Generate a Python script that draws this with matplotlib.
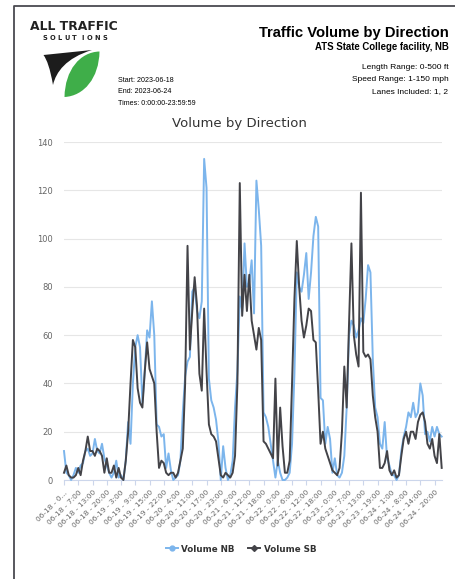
import numpy as np
import matplotlib.pyplot as plt
from matplotlib.path import Path
from matplotlib.patches import PathPatch
from matplotlib.lines import Line2D

W, H = 455, 579

# --- data: hourly counts (hours with no record are absent from the series) ---
volume_nb = [12, 3, 2, 0, 2, 5, 3, 6, 7, 12, 13, 10, 11, 17, 12, 11, 15, 9, 6, 3, 1, 3, 8,
             1, 2, 0, 8, 24, 15, 40, 55, 60, 55, 32, 45, 62, 59, 74, 60, 23, 22, 18, 19, 5, 11, 4,
             0, 1, 2, 8, 28, 43, 49, 51, 78, 80, 70, 67, 74, 133, 121, 42, 33, 30, 25, 16, 0, 14, 5,
             0, 2, 8, 30, 45, 76, 70, 98, 80, 82, 91, 69, 124, 112, 97, 28, 26, 22, 15, 8, 1, 8, 3,
             0, 0, 1, 3, 15, 44, 86, 80, 78, 85, 94, 75, 86, 101, 109, 105, 34, 33, 15, 22, 17, 3, 9,
             2, 1, 3, 10, 30, 60, 66, 64, 59, 62, 67, 65, 75, 89, 86, 50, 30, 26, 15, 13, 24, 9, 6,
             2, 2, 0, 2, 12, 18, 22, 28, 26, 32, 26, 28, 40, 35, 19, 20, 16, 22, 18, 22, 19, 18]
volume_sb = [3, 6, 2, 1, 1, 2, 5, 2, 8, 12, 18, 12, 12, 10, 13, 12, 10, 3, 9, 3, 3, 6, 1,
             5, 1, 0, 8, 20, 40, 58, 55, 38, 32, 30, 45, 57, 46, 43, 40, 20, 5, 8, 7, 3, 2, 3,
             3, 1, 3, 8, 13, 40, 97, 54, 70, 84, 72, 44, 37, 71, 45, 23, 19, 18, 16, 9, 2, 1, 3,
             2, 1, 3, 10, 40, 123, 68, 85, 70, 85, 66, 60, 54, 63, 58, 16, 15, 13, 11, 9, 42, 6, 30,
             14, 3, 3, 8, 40, 75, 99, 80, 66, 59, 64, 71, 70, 58, 57, 37, 15, 20, 13, 10, 7, 4, 3,
             2, 5, 20, 47, 30, 65, 98, 60, 52, 47, 119, 53, 51, 52, 50, 35, 26, 20, 5, 5, 7, 12, 4,
             2, 4, 1, 2, 10, 17, 20, 15, 20, 20, 17, 24, 27, 28, 24, 15, 13, 17, 10, 7, 19, 5]

tick_labels = ["06-18 - 0...", "06-18 - 7:00", "06-18 - 13:00", "06-18 - 20:00",
               "06-19 - 3:00", "06-19 - 9:00", "06-19 - 15:00", "06-19 - 22:00",
               "06-20 - 4:00", "06-20 - 11:00", "06-20 - 17:00", "06-20 - 23:00",
               "06-21 - 6:00", "06-21 - 12:00", "06-21 - 18:00", "06-22 - 0:00",
               "06-22 - 6:00", "06-22 - 12:00", "06-22 - 18:00", "06-23 - 0:00",
               "06-23 - 7:00", "06-23 - 13:00", "06-23 - 19:00", "06-24 - 1:00",
               "06-24 - 8:00", "06-24 - 14:00", "06-24 - 20:00"]
tick_step = 6
y_ticks = [0, 20, 40, 60, 80, 100, 120, 140]

NB_COLOR = '#7cb5ec'
SB_COLOR = '#434348'

fig = plt.figure(figsize=(W / 100, H / 100), dpi=100)

# --- page overlay in pixel coordinates ---
bg = fig.add_axes([0, 0, 1, 1])
bg.set_xlim(0, W)
bg.set_ylim(H, 0)
bg.axis('off')

# page border
bg.plot([14, 14, W], [H, 6, 6], color='#4a4a50', lw=1.3, solid_capstyle='butt')

# logo
bg.text(30, 30.5, 'ALL TRAFFIC', fontsize=8.9, fontweight='heavy', color='#222222',
        family='DejaVu Sans', va='baseline', ha='left')
for cx, ch in zip(np.linspace(45, 104.5, 9), 'SOLUTIONS'):
    bg.text(cx, 39.5, ch, fontsize=4.8, fontweight='bold', color='#222222',
            family='DejaVu Sans', ha='center', va='baseline')

black_path = Path([(43.5, 55), (92, 50), (66, 58), (56, 72), (53, 85),
                   (50, 68), (47, 60), (43.5, 55)],
                  [Path.MOVETO, Path.LINETO, Path.CURVE4, Path.CURVE4, Path.CURVE4,
                   Path.CURVE4, Path.CURVE4, Path.CURVE4])
bg.add_patch(PathPatch(black_path, facecolor='#1c1c1c', edgecolor='none'))
green_path = Path([(99.5, 51.5), (80, 52), (65, 70), (64.5, 97),
                   (84, 96), (99, 78), (99.5, 51.5)],
                  [Path.MOVETO, Path.CURVE4, Path.CURVE4, Path.CURVE4,
                   Path.CURVE4, Path.CURVE4, Path.CURVE4])
bg.add_patch(PathPatch(green_path, facecolor='#3fae49', edgecolor='none'))

# header texts
hdr = dict(family='Liberation Sans', color='#000000', va='baseline')
bg.text(448.5, 37.3, 'Traffic Volume by Direction', ha='right', fontsize=10.6,
        fontweight='bold', **hdr)
bg.text(448.5, 50.0, 'ATS State College facility, NB', ha='right', fontsize=6.9,
        fontweight='bold', **hdr)
for yy, s in zip([69, 81, 93], ['Length Range: 0-500 ft', 'Speed Range: 1-150 mph',
                                'Lanes Included: 1, 2']):
    bg.text(448.5, yy, s, ha='right', fontsize=6.0, **hdr)
for yy, s in zip([81.5, 93.3, 105], ['Start: 2023-06-18', 'End: 2023-06-24',
                                     'Times: 0:00:00-23:59:59']):
    bg.text(118, yy, s, ha='left', fontsize=5.1, **hdr)

# chart title
bg.text(239, 123, 'Volume by Direction', ha='center', va='center', fontsize=9.5,
        color='#333333', family='DejaVu Sans')

# --- chart ---
ax = fig.add_axes([64 / W, (H - 480) / H, (441.7 - 64) / W, 338 / H])
x = np.arange(len(volume_nb))
ax.plot(x, volume_nb, color=NB_COLOR, lw=1.4, clip_on=False, zorder=3,
        solid_joinstyle='round')
ax.plot(x, volume_sb, color=SB_COLOR, lw=1.4, clip_on=False, zorder=4,
        solid_joinstyle='round')
ax.set_xlim(0, len(volume_nb) - 1)
ax.set_ylim(0, 140)
ax.set_yticks(y_ticks)
ax.grid(axis='y', color='#e6e6e6', lw=0.8)
ax.set_axisbelow(True)
for s in ['top', 'right', 'left']:
    ax.spines[s].set_visible(False)
ax.spines['bottom'].set_color('#ccd6eb')
ax.spines['bottom'].set_linewidth(0.8)
ax.tick_params(axis='y', length=0, labelsize=6, labelcolor='#666666', pad=8)
ax.set_xticks(np.arange(0, len(volume_nb), tick_step))
ax.set_xticklabels(tick_labels, rotation=45, ha='right', rotation_mode='anchor',
                   fontsize=5.3, color='#666666')
ax.tick_params(axis='x', length=3.6, width=0.8, color='#ccd6eb', pad=3)

handles = [Line2D([], [], color=NB_COLOR, lw=1.4, marker='o', markersize=3.5),
           Line2D([], [], color=SB_COLOR, lw=1.4, marker='D', markersize=3)]
leg = fig.legend(handles, ['Volume NB', 'Volume SB'], loc='center',
                 bbox_to_anchor=(241 / W, 1 - 549 / H), ncol=2, frameon=False,
                 handlelength=1.4, handletextpad=0.4, columnspacing=1.5,
                 prop=dict(family='DejaVu Sans', weight='bold', size=6.3))
for t in leg.get_texts():
    t.set_color('#333333')

fig.savefig('out.png', dpi=100)
